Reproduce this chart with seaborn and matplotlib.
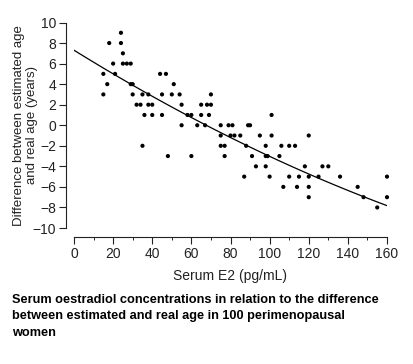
import matplotlib
matplotlib.use("Agg")
import matplotlib.pyplot as plt
import numpy as np
import pandas as pd
import seaborn as sns

# serum E2 (pg/mL) and age difference (years)
E2 = [
    24,
    18, 24,
    25,
    20, 25, 27, 29,
    15, 21, 44, 47,
    17, 29, 30, 51,
    15, 30, 35, 38, 45, 50, 54, 70,
    32, 34, 38, 40, 55, 65, 68, 70,
    36, 40, 45, 58, 60, 65, 69, 101,
    55, 63, 67, 75, 79, 81, 89, 90,
    75, 80, 82, 85, 95, 101, 120,
    35, 75, 77, 88, 98, 106, 110, 113,
    48, 60, 77, 91, 98, 99, 105,
    93, 98, 118, 127, 130,
    87, 100, 110, 115, 120, 125, 136, 160,
    107, 114, 120, 145,
    120, 148, 160,
    155,
]
AGE_DIFF = (
    [9] * 1 + [8] * 2 + [7] * 1 + [6] * 4 + [5] * 4 + [4] * 4
    + [3] * 8 + [2] * 8 + [1] * 8 + [0] * 8 + [-1] * 7 + [-2] * 8
    + [-3] * 7 + [-4] * 5 + [-5] * 8 + [-6] * 4 + [-7] * 3 + [-8] * 1
)

# the printed regression curve, read at each x tick
FIT_E2 = [0, 20, 40, 60, 80, 100, 120, 140, 160]
FIT_DIFF = [7.3, 5.0, 2.8, 0.8, -1.2, -3.0, -4.8, -6.35, -7.8]

X_TICKS = list(range(0, 161, 20))
Y_TICKS = list(range(-10, 11, 2))

CAPTION = (
    "Serum oestradiol concentrations in relation to the difference\n"
    "between estimated and real age in 100 perimenopausal\n"
    "women"
)


def make_plot(df: pd.DataFrame, fit: pd.DataFrame):
    W, H = 414, 364
    fig = plt.figure(figsize=(W / 100, H / 100), dpi=100)
    ax = fig.add_axes([74 / W, (H - 228) / H, (387 - 74) / W, (228 - 22.5) / H])

    ax.set_xlim(0, 160)
    ax.set_ylim(-10, 10)

    sns.scatterplot(
        data=df, x="e2", y="diff", ax=ax, color="black", s=9,
        edgecolor="none", clip_on=False,
    )
    # smooth quadratic through the curve readings, over the full x range
    sns.regplot(
        data=fit, x="e2", y="diff", ax=ax, order=2, scatter=False, ci=None,
        truncate=False, color="black", line_kws={"linewidth": 0.9},
    )
    ax.set_xlim(0, 160)
    ax.set_ylim(-10, 10)

    ax.set_xticks(X_TICKS)
    ax.set_xticks(range(10, 160, 20), minor=True)
    ax.set_yticks(Y_TICKS)
    ax.set_yticklabels([str(v).replace("-", "\u2212") for v in Y_TICKS])
    ax.tick_params(axis="both", which="major", length=5, width=0.8,
                   labelsize=10, colors="#222222", pad=2)
    ax.tick_params(axis="x", which="minor", length=2.5, width=0.7)

    ax.set_xlabel("Serum E2 (pg/mL)", fontsize=10, color="#222222", labelpad=6)
    ax.set_ylabel("Difference between estimated age\nand real age (years)",
                  fontsize=9.5, color="#222222", linespacing=1.1)
    # anchor is the right edge of the rotated block
    ax.yaxis.set_label_coords(-36 / 313, 0.5)

    sns.despine(ax=ax, offset={"left": 6, "bottom": 6.5})
    for sp in ("left", "bottom"):
        ax.spines[sp].set_linewidth(0.8)
        ax.spines[sp].set_color("#222222")

    fig.text(12 / W, 1 - 294 / H, CAPTION, ha="left", va="top",
             fontsize=9.2, fontweight="bold", linespacing=1.5, color="black")

    fig.savefig("out.png", dpi=100)


if __name__ == "__main__":
    df = pd.DataFrame({"e2": E2, "diff": AGE_DIFF})
    fit = pd.DataFrame({"e2": FIT_E2, "diff": FIT_DIFF})

    sns.set_style("ticks")
    plt.rcParams["font.family"] = ["Liberation Sans", "DejaVu Sans"]

    make_plot(df, fit)
